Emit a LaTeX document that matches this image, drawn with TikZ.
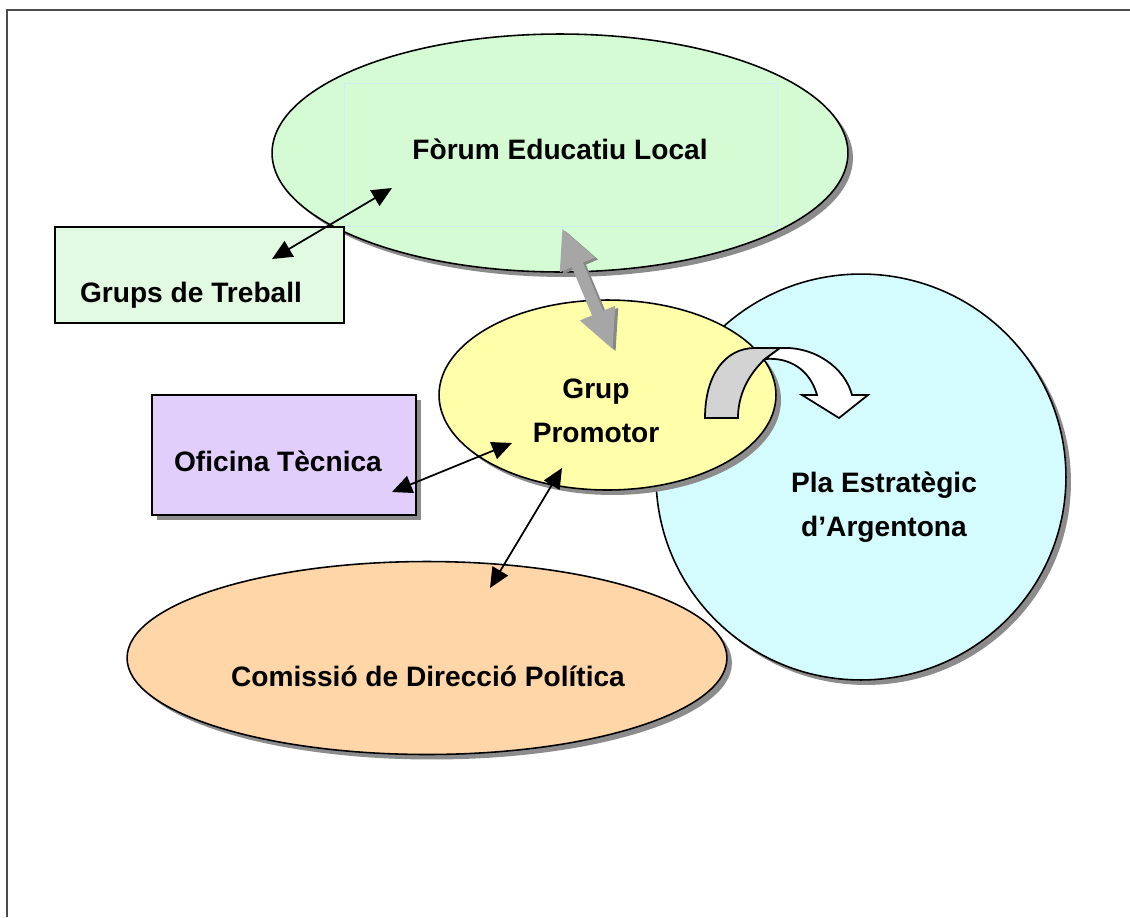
\documentclass[tikz,border=0pt]{standalone}
\usepackage{fontspec}
\setmainfont{Liberation Sans}
\usetikzlibrary{math, shapes.geometric, shadows, arrows.meta}

\definecolor{verdeforo}{RGB}{213,251,213}
\definecolor{verdegrupo}{RGB}{226,250,226}
\definecolor{lilaoficina}{RGB}{226,206,250}
\definecolor{amarillo}{RGB}{255,255,170}
\definecolor{celeste}{RGB}{212,252,255}
\definecolor{salmon}{RGB}{255,214,168}
\definecolor{grisflecha}{RGB}{166,166,166}
\definecolor{grisoscuro}{RGB}{136,136,136}
\definecolor{griscurva}{RGB}{211,211,211}

\begin{document}
\begin{tikzpicture}[x = 0.02cm, y = -0.02cm,
    texto/.style = {font = \bfseries\fontsize{16}{25}\selectfont, align = center, inner sep = 0pt},
    sombra/.style = {drop shadow = {shadow xshift = 0.1cm, shadow yshift = -0.1cm,
                     opacity = 1, fill = black!45}},
    globo/.style = {ellipse, draw, line width = 0.9pt, inner sep = 0pt},
    caja/.style = {rectangle, draw, line width = 1.1pt, inner sep = 0pt},
    flecha/.style = {{Triangle[length = 0.4cm, width = 0.36cm]}-{Triangle[length = 0.4cm, width = 0.36cm]},
                     line width = 1pt},
    flechagruesa/.style = {{Triangle[length = 0.8cm, width = 0.7cm]}-{Triangle[length = 0.8cm, width = 0.7cm]},
                     line width = 0.24cm},
]
    \tikzmath{
        \xval = 1130;
        \yval = 917;
    }

\useasboundingbox (0,0) rectangle (\xval,\yval);

% marco
\draw[line width = 1.2pt, black!70] (7,\yval) -- (7,10) -- (\xval,10);

% Fòrum
\node[globo, sombra, fill = verdeforo,
        minimum width = 11.52cm, minimum height = 4.76cm] (forum) at (560,153) {};
\draw[cyan!20, line width = 0.5pt] (344,83) rectangle (777,226);
\node[texto, anchor = base] (forum-t) at (560,159) {Fòrum Educatiu Local};

% Grups de treball
\node[caja, fill = verdegrupo,
        minimum width = 5.78cm, minimum height = 1.92cm] (grups) at (199.5,275) {};
\node[texto, anchor = base] (grups-t) at (191,302) {Grups de Treball};

% Pla estratègic
\node[globo, sombra, fill = celeste,
        minimum width = 8.2cm, minimum height = 8.12cm] (pla) at (861,477) {};
\node[texto] (pla-t) at (884,507) {Pla Estratègic\\d’Argentona};

% Comissió
\node[globo, sombra, fill = salmon,
        minimum width = 12cm, minimum height = 3.86cm] (comissio) at (427,658) {};
\node[texto, anchor = base] (comissio-t) at (428,686) {Comissió de Direcció Política};

% Oficina
\node[caja, sombra, fill = lilaoficina,
        minimum width = 5.28cm, minimum height = 2.4cm] (oficina) at (284,455) {};
\node[texto, anchor = base] (oficina-t) at (278,471) {Oficina Tècnica};

% Grup promotor
\node[globo, sombra, fill = amarillo,
        minimum width = 6.74cm, minimum height = 3.8cm] (promotor) at (607.5,395) {};
\node[texto] (promotor-t) at (596,411) {Grup\\Promotor};

% flecha curva
\draw[line width = 1pt, fill = griscurva] (705,418) .. controls (705,375) and (725,348) .. (755,348)
        -- (780,348) -- (765,359) .. controls (748,375) and (738,395) .. (738,418) -- cycle;
\draw[line width = 1pt, fill = white] (780,348) .. controls (815,346) and (845,368) .. (852,395)
        -- (868,395) -- (839,418) -- (802,395) -- (817,395)
        .. controls (810,370) and (790,357) .. (765,359) -- cycle;

% puntos de las flechas
\coordinate (g1) at (272,259);
\coordinate (f1) at (392,188);
\coordinate (o1) at (392,492);
\coordinate (p1) at (512,443);
\coordinate (p2) at (562,468);
\coordinate (c1) at (490,588);
\coordinate (f2) at (562,228);
\coordinate (p3) at (613,350);

% flechas
\draw[flecha] (g1) -- (f1);
\draw[flecha] (o1) -- (p1);
\draw[flecha] (p2) -- (c1);
\draw[flechagruesa, grisoscuro] ([shift = {(3,2)}]f2) -- ([shift = {(3,2)}]p3);
\draw[flechagruesa, grisflecha] (f2) -- (p3);

\end{tikzpicture}
\end{document}
